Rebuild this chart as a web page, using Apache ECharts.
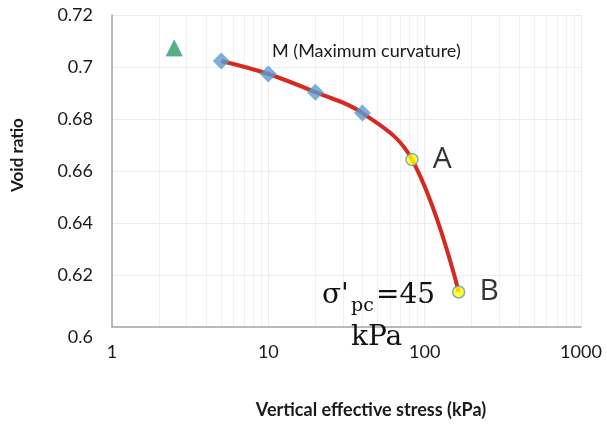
<!DOCTYPE html>
<html>
<head>
<meta charset="utf-8">
<script src="https://cdn.jsdelivr.net/npm/echarts@6/dist/echarts.min.js"></script>
<style>
  html, body { margin: 0; padding: 0; background: #fff; }
  #chart { width: 607px; height: 425px; }
</style>
</head>
<body>
<div id="chart"></div>
<script>
// Oedometer test: void ratio against vertical effective stress (log scale)
const seatingStress = [2.5];
const seatingRatio = [0.7073];

const loadStress = [5, 10, 20, 40];
const loadRatio = [0.7023, 0.6973, 0.6903, 0.6823];

const keyStress = [83, 165];
const keyRatio = [0.6644, 0.6135];
const keyNames = ['A', 'B'];

const stressRange = [1, 1000];
const ratioRange = [0.6, 0.72];
const ratioStep = 0.02;

const SANS = 'Lato, "Open Sans", sans-serif';
const SERIF = '"DejaVu Serif", "Liberation Serif", serif';

const pairs = (xs, ys) => xs.map((x, i) => [x, ys[i]]);

// minor vertical gridlines at 2..9 of every decade
const minorLines = [];
for (let d = stressRange[0]; d < stressRange[1]; d *= 10) {
  for (let k = 2; k <= 9; k++) minorLines.push({ xAxis: d * k });
}

const chart = echarts.init(document.getElementById('chart'), null, { renderer: 'canvas' });

chart.setOption({
  animation: false,
  backgroundColor: '#fff',
  grid: { left: 112, right: 26, top: 15, bottom: 98, containLabel: false },
  xAxis: {
    type: 'log',
    logBase: 10,
    min: stressRange[0],
    max: stressRange[1],
    axisLine: { show: true, lineStyle: { color: '#a6a6a6', width: 1.5 } },
    axisTick: { show: false },
    axisLabel: {
      fontFamily: SANS, fontSize: 18, color: '#1a1a1a', margin: 16,
      formatter: v => String(Math.round(v))
    },
    splitLine: { show: true, lineStyle: { color: '#ececec', width: 1 } }
  },
  yAxis: {
    type: 'value',
    min: ratioRange[0],
    max: ratioRange[1],
    interval: ratioStep,
    axisLine: { show: true, lineStyle: { color: '#a6a6a6', width: 1.5 } },
    axisTick: { show: false },
    axisLabel: {
      fontFamily: SANS, fontSize: 18, color: '#1a1a1a', margin: 19,
      formatter: v => (Math.abs(v - ratioRange[0]) < 1e-9 ? '{low|' + v + '}' : String(+v.toFixed(2))),
      rich: { low: { fontFamily: SANS, fontSize: 18, color: '#1a1a1a', padding: [20, 0, 0, 0] } }
    },
    splitLine: { show: true, lineStyle: { color: '#ececec', width: 1 } }
  },
  series: [
    {
      name: 'grid-minor',
      type: 'line',
      data: [],
      silent: true,
      z: 0,
      markLine: {
        silent: true,
        z: 0,
        symbol: ['none', 'none'],
        label: { show: false },
        lineStyle: { color: '#f0f0f0', type: 'solid', width: 1 },
        data: minorLines
      }
    },
    {
      name: 'curve',
      type: 'line',
      data: pairs(loadStress.concat(keyStress), loadRatio.concat(keyRatio)),
      smooth: 0.4,
      showSymbol: false,
      lineStyle: { color: '#d42a1f', width: 4 },
      z: 6
    },
    {
      name: 'seating',
      type: 'scatter',
      data: pairs(seatingStress, seatingRatio),
      symbol: 'triangle',
      symbolSize: 16,
      itemStyle: { color: '#28a050', borderColor: '#5b9bd5', borderWidth: 1 },
      z: 7
    },
    {
      name: 'loading',
      type: 'scatter',
      data: pairs(loadStress, loadRatio),
      symbol: 'diamond',
      symbolSize: 17,
      itemStyle: { color: '#5b9bd5' },
      z: 7
    },
    {
      name: 'key points',
      type: 'scatter',
      data: keyStress.map((x, i) => ({ value: [x, keyRatio[i]], name: keyNames[i] })),
      symbol: 'circle',
      symbolSize: 12,
      itemStyle: { color: '#ffff00', borderColor: '#5b9bd5', borderWidth: 1.5 },
      label: {
        show: true,
        position: 'right',
        distance: 14,
        formatter: p => p.name,
        fontFamily: '"Open Sans", Lato, sans-serif',
        fontSize: 30,
        color: '#000'
      },
      z: 8
    }
  ],
  graphic: [
    {
      type: 'text', x: 18, y: 155, rotation: Math.PI / 2, z: 20,
      style: { text: 'Void ratio', font: 'bold 17px ' + SANS, fill: '#1a1a1a', align: 'center', verticalAlign: 'middle' }
    },
    {
      type: 'text', x: 371, y: 410, z: 20,
      style: { text: 'Vertical effective stress (kPa)', font: 'bold 18px ' + SANS, fill: '#1a1a1a', align: 'center', verticalAlign: 'middle' }
    },
    {
      type: 'text', x: 272, y: 51, z: 20,
      style: { text: 'M (Maximum curvature)', font: '18px ' + SANS, fill: '#1a1a1a', align: 'left', verticalAlign: 'middle' }
    },
    {
      type: 'text', x: 322, y: 296, z: 20,
      style: { text: "σ'", font: '28px ' + SERIF, fill: '#111', align: 'left', verticalAlign: 'middle' }
    },
    {
      type: 'text', x: 351, y: 306, z: 20,
      style: { text: 'pc', font: '19px ' + SERIF, fill: '#111', align: 'left', verticalAlign: 'middle' }
    },
    {
      type: 'text', x: 376, y: 296, z: 20,
      style: { text: '=45', font: '28px ' + SERIF, fill: '#111', align: 'left', verticalAlign: 'middle' }
    },
    {
      type: 'text', x: 351, y: 338, z: 20,
      style: { text: 'kPa', font: '28px ' + SERIF, fill: '#111', align: 'left', verticalAlign: 'middle' }
    }
  ]
});
</script>
</body>
</html>
